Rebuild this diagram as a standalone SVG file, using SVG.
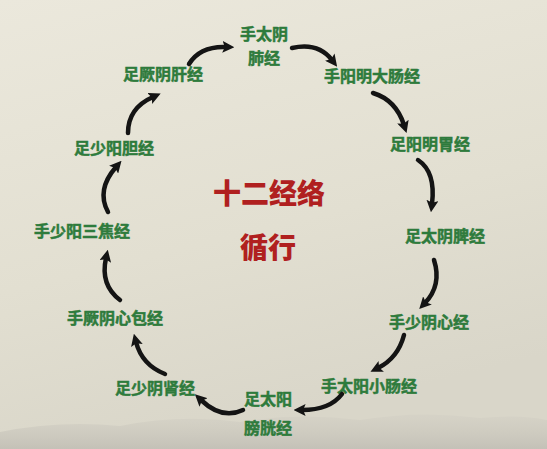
<svg xmlns="http://www.w3.org/2000/svg" width="547" height="449" viewBox="0 0 547 449">
<defs>
<linearGradient id="bg" x1="0" y1="0" x2="0.3" y2="1">
<stop offset="0" stop-color="#ebe8dc"/>
<stop offset="0.6" stop-color="#e2dfd1"/>
<stop offset="1" stop-color="#d9d6c9"/>
</linearGradient>
<linearGradient id="band" x1="0" y1="0" x2="0" y2="1">
<stop offset="0" stop-color="#d2cfc4" stop-opacity="0.5"/>
<stop offset="1" stop-color="#c4c1b7"/>
</linearGradient>
<marker id="ah" viewBox="0 0 10 10" markerWidth="12" markerHeight="12" markerUnits="userSpaceOnUse" refX="3" refY="5" orient="auto">
<path d="M0,0 L10,5 L0,10 L2,5 z" fill="#141414"/>
</marker>
<style>
.n{font-family:"Noto Sans CJK SC","Noto Sans CJK TC",sans-serif;font-weight:bold;font-size:16px;fill:#2e7b3c;text-anchor:middle;stroke:#2e7b3c;stroke-width:0.5}
.t{font-family:"Noto Sans CJK SC",sans-serif;font-weight:900;font-size:28px;fill:#b0201f;text-anchor:middle}
.c path{fill:none;stroke:#141414;stroke-width:4.5;stroke-linecap:round;marker-end:url(#ah)}
</style>
</defs>
<rect width="547" height="449" fill="url(#bg)"/>
<path d="M0,432 Q60,420 120,426 Q180,414 240,422 Q300,412 360,420 Q420,410 480,418 Q520,414 547,420 L547,449 L0,449 z" fill="url(#band)"/>
<g id="title">
<text class="t" x="269" y="204">十二经络</text>
<text class="t" x="268" y="258">循行</text>
</g>
<g id="n1"><text class="n" x="264" y="40">手太阴</text><text class="n" x="264" y="64">肺经</text></g>
<g id="n2"><text class="n" x="372" y="82">手阳明大肠经</text></g>
<g id="n3"><text class="n" x="430" y="150">足阳明胃经</text></g>
<g id="n4"><text class="n" x="445" y="242">足太阴脾经</text></g>
<g id="n5"><text class="n" x="429" y="328">手少阴心经</text></g>
<g id="n6"><text class="n" x="369" y="392">手太阳小肠经</text></g>
<g id="n7"><text class="n" x="268" y="405">足太阳</text><text class="n" x="268" y="434">膀胱经</text></g>
<g id="n8"><text class="n" x="155" y="394">足少阴肾经</text></g>
<g id="n9"><text class="n" x="115" y="324">手厥阴心包经</text></g>
<g id="n10"><text class="n" x="82" y="237">手少阳三焦经</text></g>
<g id="n11"><text class="n" x="114" y="154">足少阳胆经</text></g>
<g id="n12"><text class="n" x="163" y="80">足厥阴肝经</text></g>
<g id="connectors" class="c">
<path d="M189,64 Q200,46 226,47"/>
<path d="M292,48 Q318,42 332,60"/>
<path d="M373,93 Q396,100 404,125"/>
<path d="M418,160 Q436,172 432,204"/>
<path d="M434,260 Q442,285 425,303"/>
<path d="M404,335 Q398,358 378,368"/>
<path d="M342,394 Q330,410 302,410"/>
<path d="M243,410 Q222,420 201,400"/>
<path d="M165,374 Q142,365 136,342"/>
<path d="M120,300 Q100,285 106,258"/>
<path d="M108,212 Q96,190 116,167"/>
<path d="M128,133 Q128,108 153,97"/>
</g>
</svg>
